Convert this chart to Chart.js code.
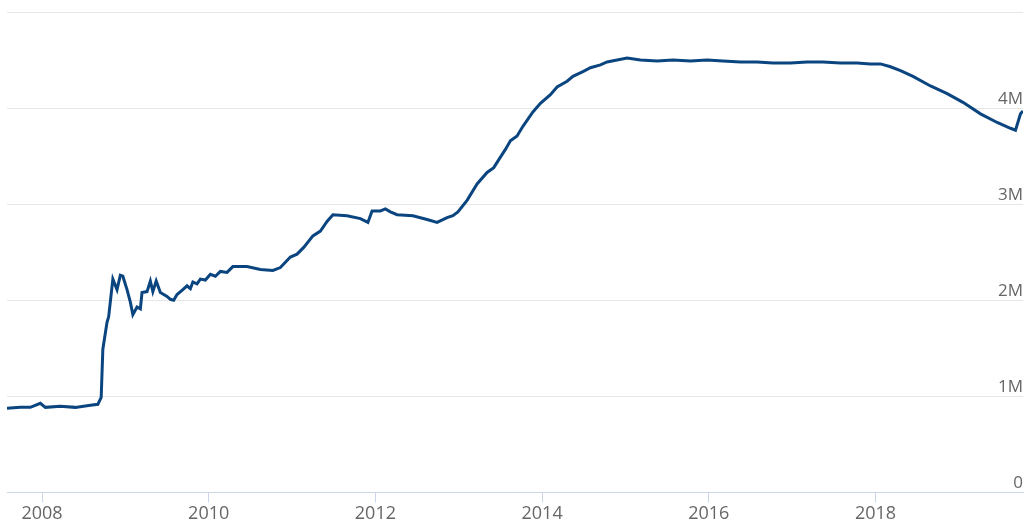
<!DOCTYPE html>
<html>
<head>
<meta charset="utf-8">
<script src="https://cdn.jsdelivr.net/npm/chart.js@4.4.1/dist/chart.umd.min.js"></script>
<style>
  html, body { margin: 0; padding: 0; background: #fff; }
  #wrap { width: 1030px; height: 526px; position: relative; }
</style>
</head>
<body>
<div id="wrap"><canvas id="chart"></canvas></div>
<script>
// ── Data (decimal years, value in M) ─────────────────────────────
const years = [
  2007.58, 2007.74, 2007.86, 2007.98, 2008.04, 2008.22, 2008.40, 2008.58, 2008.67,
  2008.71, 2008.73, 2008.78, 2008.80, 2008.85, 2008.90, 2008.94, 2008.97, 2009.02,
  2009.06, 2009.09, 2009.14, 2009.18, 2009.20, 2009.26, 2009.30, 2009.33, 2009.37,
  2009.42, 2009.50, 2009.54, 2009.58, 2009.62, 2009.69, 2009.74, 2009.78, 2009.81,
  2009.86, 2009.90, 2009.96, 2010.02, 2010.08, 2010.14, 2010.22, 2010.29, 2010.46,
  2010.62, 2010.77, 2010.86, 2010.98, 2011.06, 2011.14, 2011.25, 2011.34, 2011.42,
  2011.49, 2011.66, 2011.82, 2011.91, 2011.96, 2012.06, 2012.12, 2012.18, 2012.26,
  2012.45, 2012.62, 2012.74, 2012.86, 2012.93, 2012.99, 2013.10, 2013.22, 2013.34,
  2013.42, 2013.50, 2013.56, 2013.62, 2013.70, 2013.77, 2013.89, 2013.98, 2014.10,
  2014.18, 2014.30, 2014.37, 2014.49, 2014.58, 2014.70, 2014.78, 2015.02, 2015.18,
  2015.38, 2015.57, 2015.78, 2015.98, 2016.17, 2016.38, 2016.58, 2016.77, 2016.98,
  2017.18, 2017.37, 2017.58, 2017.78, 2017.94, 2018.06, 2018.18, 2018.30, 2018.45,
  2018.66, 2018.86, 2019.05, 2019.26, 2019.46, 2019.62, 2019.68, 2019.74, 2019.77
];
const assets = [
  0.875, 0.885, 0.885, 0.927, 0.885, 0.896, 0.885, 0.906, 0.917,
  0.99, 1.49, 1.77, 1.83, 2.22, 2.11, 2.26, 2.25, 2.11,
  1.98, 1.85, 1.93, 1.91, 2.08, 2.09, 2.20, 2.09, 2.20,
  2.08, 2.04, 2.01, 2.00, 2.06, 2.11, 2.15, 2.12, 2.19,
  2.17, 2.22, 2.21, 2.27, 2.25, 2.30, 2.29, 2.35, 2.35,
  2.32, 2.31, 2.34, 2.45, 2.48, 2.55, 2.67, 2.72, 2.82,
  2.89, 2.88, 2.85, 2.81, 2.93, 2.93, 2.95, 2.92, 2.89,
  2.88, 2.84, 2.81, 2.86, 2.88, 2.92, 3.04, 3.21, 3.33,
  3.38, 3.49, 3.57, 3.66, 3.71, 3.81, 3.96, 4.05, 4.14,
  4.22, 4.28, 4.33, 4.38, 4.42, 4.45, 4.48, 4.52, 4.50,
  4.49, 4.50, 4.49, 4.50, 4.49, 4.48, 4.48, 4.47, 4.47,
  4.48, 4.48, 4.47, 4.47, 4.46, 4.46, 4.43, 4.39, 4.33,
  4.23, 4.15, 4.06, 3.94, 3.85, 3.79, 3.77, 3.94, 3.97
];
const xTicks = [2008, 2010, 2012, 2014, 2016, 2018];
const yTicks = [0, 1, 2, 3, 4, 5];
const yLabels = ["0", "1M", "2M", "3M", "4M", ""];

const points = years.map((y, i) => ({ x: y, y: assets[i] }));

// ── Chart ────────────────────────────────────────────────────────
new Chart(document.getElementById("chart"), {
    type: "line",
    data: {
        datasets: [{
            data:        points,
            borderColor: "#0b4580",
            borderWidth: 3,
            pointRadius: 0,
            tension:     0,
        }]
    },
    options: {
        responsive:          true,
        maintainAspectRatio: false,
        animation:           false,
        layout: { padding: { left: 7, right: 7, top: 12, bottom: 0 } },
        plugins: { legend: { display: false }, tooltip: { enabled: false } },
        scales: {
            x: {
                type: "linear",
                min:  2007.58,
                max:  2019.77,
                afterBuildTicks: (s) => { s.ticks = xTicks.map(v => ({ value: v })); },
                ticks: {
                    color:    "#666666",
                    font:     { family: "Open Sans", size: 18, lineHeight: 1.2 },
                    padding:  1,
                    maxRotation: 0,
                    callback: (v) => String(v),
                },
                grid:   { drawOnChartArea: false, drawTicks: true, tickLength: 10, color: "#ccd6eb" },
                border: { color: "#ccd6eb", width: 1 },
            },
            y: {
                position: "right",
                min: 0,
                max: 5,
                afterBuildTicks: (s) => { s.ticks = yTicks.map(v => ({ value: v })); },
                ticks: {
                    mirror:      true,
                    padding:     0,
                    labelOffset: -9,
                    color:       "#666666",
                    font:        { family: "Open Sans", size: 17 },
                    callback:    (v) => yLabels[yTicks.indexOf(v)],
                },
                grid:   { color: "#e6e6e6", drawTicks: false },
                border: { display: false },
            }
        }
    }
});
</script>
</body>
</html>
